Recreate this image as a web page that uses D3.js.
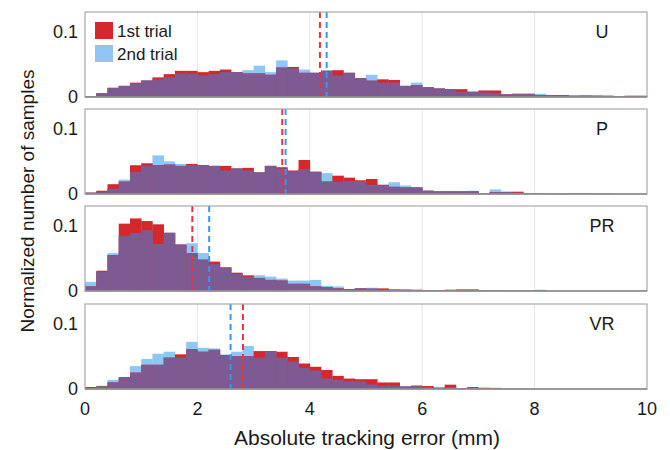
<!DOCTYPE html>
<html>
<head>
<meta charset="utf-8">
<script src="https://cdn.jsdelivr.net/npm/d3@7"></script>
<style>
  body { margin: 0; background: #fff; }
  text { font-family: "Liberation Sans", Arial, sans-serif; fill: #1a1a1a; }
</style>
</head>
<body>
<div id="chart"></div>
<script>
// histogram bins: 0.2 mm wide, 0..10 mm
let binWidth = 0.2;
let binStarts = d3.range(0, 10, binWidth);

let panelNames = ["U", "P", "PR", "VR"];
let seriesNames = ["1st trial", "2nd trial"];

// normalized counts per bin
let u1 = [0.001,0.0056,0.014,0.017,0.022,0.025,0.030,0.035,0.040,0.040,0.038,0.040,0.042,0.038,0.036,0.036,0.034,0.045,0.046,0.037,0.037,0.040,0.041,0.037,0.029,0.025,0.027,0.026,0.017,0.018,0.015,0.013,0.012,0.012,0.008,0.010,0.010,0.004,0.004,0.004,0.003,0.003,0.003,0.002,0.002,0.002,0.001,0.001,0.002,0.002];
let u2 = [0.001,0.0056,0.014,0.017,0.021,0.026,0.027,0.030,0.036,0.036,0.033,0.035,0.038,0.038,0.041,0.048,0.038,0.056,0.044,0.042,0.037,0.041,0.033,0.037,0.029,0.034,0.022,0.022,0.017,0.022,0.015,0.013,0.012,0.008,0.008,0.007,0.006,0.004,0.006,0.006,0.005,0.003,0.003,0.002,0.003,0.002,0.003,0.001,0.001,0.001];
let p1 = [0.002,0.005,0.015,0.019,0.044,0.047,0.044,0.045,0.043,0.046,0.044,0.043,0.043,0.039,0.040,0.033,0.043,0.041,0.036,0.052,0.034,0.019,0.028,0.025,0.021,0.023,0.014,0.011,0.010,0.010,0.005,0.004,0.004,0.004,0.004,0.0015,0.003,0.003,0.0035,0.0015,0.0008,0.0005,0.0005,0.001,0.001,0.0005,0.0005,0,0,0];
let p2 = [0.002,0.003,0.008,0.022,0.034,0.043,0.059,0.050,0.046,0.044,0.044,0.043,0.036,0.039,0.036,0.033,0.043,0.039,0.035,0.038,0.034,0.032,0.019,0.020,0.020,0.014,0.014,0.018,0.013,0.010,0.005,0.004,0.004,0.004,0.005,0.0015,0.007,0.004,0.002,0.0015,0.0008,0.0005,0.001,0.0005,0.0005,0.0005,0.0005,0,0,0];
let pr1 = [0.007,0.031,0.055,0.103,0.111,0.107,0.102,0.089,0.071,0.058,0.048,0.045,0.036,0.028,0.024,0.020,0.017,0.016,0.011,0.011,0.007,0.006,0.004,0.003,0.004,0.0035,0.004,0.002,0.002,0.002,0.001,0.001,0.002,0.0025,0.0025,0.001,0.001,0.0005,0.0005,0.0005,0.0005,0,0,0,0,0,0,0,0,0];
let pr2 = [0.014,0.029,0.058,0.084,0.089,0.093,0.072,0.089,0.071,0.073,0.058,0.041,0.036,0.026,0.022,0.024,0.022,0.019,0.016,0.016,0.017,0.008,0.007,0.003,0.004,0.005,0.0025,0.003,0.002,0.0015,0.001,0.001,0.001,0.001,0.001,0.001,0.0005,0.0005,0.0005,0.0005,0.002,0,0,0,0,0,0,0,0,0];
let vr1 = [0.003,0.004,0.010,0.018,0.025,0.037,0.037,0.048,0.053,0.061,0.057,0.060,0.052,0.050,0.050,0.058,0.058,0.057,0.049,0.039,0.034,0.029,0.020,0.016,0.015,0.015,0.010,0.010,0.0036,0.005,0.0045,0.002,0.0066,0.0015,0.003,0.001,0.001,0.0005,0.0005,0.0005,0,0,0,0,0,0,0,0,0,0];
let vr2 = [0.0015,0.005,0.014,0.018,0.035,0.046,0.054,0.057,0.048,0.072,0.063,0.062,0.053,0.057,0.066,0.048,0.058,0.048,0.042,0.032,0.028,0.016,0.014,0.012,0.012,0.007,0.005,0.005,0.0045,0.005,0.003,0.002,0.003,0.0015,0.0015,0.0025,0.002,0,0,0,0,0,0,0,0,0,0,0,0,0];

// mean error (dashed lines): [1st, 2nd]
let meanU = [4.18, 4.30];
let meanP = [3.51, 3.57];
let meanPR = [1.91, 2.21];
let meanVR = [2.81, 2.59];

let xTicks = [0, 2, 4, 6, 8, 10];
let yTicks = [0, 0.1];

let panels = [
  { name: panelNames[0], first: u1, second: u2, means: meanU },
  { name: panelNames[1], first: p1, second: p2, means: meanP },
  { name: panelNames[2], first: pr1, second: pr2, means: meanPR },
  { name: panelNames[3], first: vr1, second: vr2, means: meanVR }
];

let width = 670, height = 450;
let red = "#d5282d", blue = "#8ec6f6", purple = "#7d5a92";

let svg = d3.select("#chart").append("svg")
  .attr("width", width)
  .attr("height", height);

let x = d3.scaleLinear().domain([0, 10]).range([85, 647]);
let panelTops = [12, 109, 206, 304];
let panelH = 85;

panels.forEach(function(p, k) {
  let top = panelTops[k];
  let y = d3.scaleLinear().domain([0, 0.13]).range([top + panelH, top]);
  let g = svg.append("g");

  // grid
  g.selectAll("line.grid")
    .data(xTicks.slice(1, -1))
    .enter().append("line")
    .attr("x1", d => x(d)).attr("x2", d => x(d))
    .attr("y1", top).attr("y2", top + panelH)
    .attr("stroke", "#e6e6e6").attr("stroke-width", 1);

  let bars = binStarts.map(function(s, i) {
    return { x0: s, a: p.first[i], b: p.second[i] };
  });

  // 2nd trial, 1st trial, overlap
  [["b", blue], ["a", red]].forEach(function(s) {
    g.selectAll(null)
      .data(bars)
      .enter().append("rect")
      .attr("x", d => x(d.x0))
      .attr("width", x(binWidth) - x(0) + 0.3)
      .attr("y", d => y(d[s[0]]))
      .attr("height", d => y(0) - y(d[s[0]]))
      .attr("fill", s[1]);
  });
  g.selectAll(null)
    .data(bars)
    .enter().append("rect")
    .attr("x", d => x(d.x0))
    .attr("width", x(binWidth) - x(0) + 0.3)
    .attr("y", d => y(Math.min(d.a, d.b)))
    .attr("height", d => y(0) - y(Math.min(d.a, d.b)))
    .attr("fill", purple);

  // mean lines
  g.selectAll("line.mean")
    .data(p.means)
    .enter().append("line")
    .attr("x1", d => x(d)).attr("x2", d => x(d))
    .attr("y1", top).attr("y2", top + panelH)
    .attr("stroke", (d, i) => i === 0 ? "#e8343a" : "#3a95ee")
    .attr("stroke-width", 2)
    .attr("stroke-dasharray", "6,4");

  // frame
  g.append("rect")
    .attr("x", x(0)).attr("y", top)
    .attr("width", x(10) - x(0)).attr("height", panelH)
    .attr("fill", "none").attr("stroke", "#a8a8a8").attr("stroke-width", 1.2);

  g.append("line")
    .attr("x1", x(0)).attr("x2", x(10))
    .attr("y1", y(0)).attr("y2", y(0))
    .attr("stroke", "#8a8a8a").attr("stroke-width", 1.5);

  // y ticks
  g.selectAll("text.yt")
    .data(yTicks)
    .enter().append("text")
    .attr("x", 78)
    .attr("y", d => y(d))
    .attr("dy", "0.35em")
    .attr("text-anchor", "end")
    .attr("font-size", 18)
    .text(d => d === 0 ? "0" : d3.format(".1f")(d));

  g.append("text")
    .attr("x", 602).attr("y", top + 26)
    .attr("text-anchor", "middle")
    .attr("font-size", 18)
    .text(p.name);
});

// x axis labels
svg.selectAll("text.xt")
  .data(xTicks)
  .enter().append("text")
  .attr("x", d => x(d))
  .attr("y", 415)
  .attr("text-anchor", "middle")
  .attr("font-size", 18)
  .text(d => d);

svg.append("text")
  .attr("x", 367).attr("y", 445)
  .attr("text-anchor", "middle")
  .attr("font-size", 21)
  .text("Absolute tracking error (mm)");

svg.append("text")
  .attr("transform", "translate(34,201) rotate(-90)")
  .attr("text-anchor", "middle")
  .attr("font-size", 19)
  .text("Normalized number of samples");

// legend
let legend = svg.append("g");
[red, blue].forEach(function(c, i) {
  legend.append("rect")
    .attr("x", 95).attr("y", 22 + i * 23)
    .attr("width", 18).attr("height", 17)
    .attr("fill", c);
  legend.append("text")
    .attr("x", 117).attr("y", 31 + i * 23)
    .attr("dy", "0.35em")
    .attr("font-size", 17)
    .text(seriesNames[i]);
});
</script>
</body>
</html>
